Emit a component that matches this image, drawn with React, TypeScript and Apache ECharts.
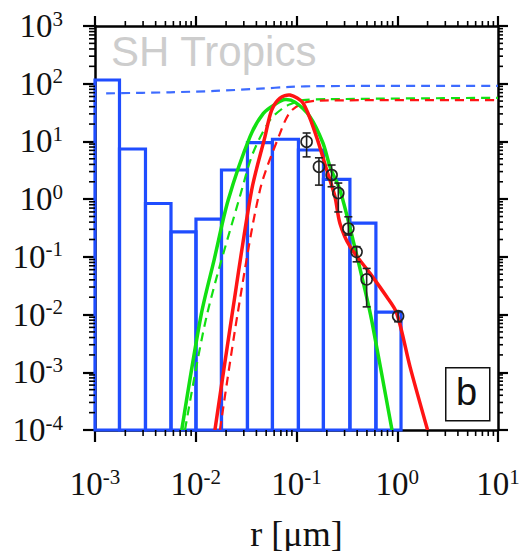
import React, { useEffect, useRef } from 'react';
import * as echarts from 'echarts';

// Histogram (blue) bin edges and heights
const binEdges = [0.001, 0.00175, 0.00317, 0.00568, 0.01005, 0.018, 0.0326, 0.0577, 0.1045, 0.185, 0.339, 0.614, 1.09];
const binCounts = [116, 7.4, 0.84, 0.27, 0.45, 3.2, 9.5, 10.9, 7.1, 2.2, 0.385, 0.011];

// Blue dashed (cumulative)
const blueDashR = [0.00129, 0.00555, 0.0155, 0.0434, 0.0861, 0.171, 10];
const blueDashY = [68, 71, 75, 82, 88, 91, 92];

// Green solid
const greenR = [0.00726, 0.0113, 0.0152, 0.021, 0.0345, 0.0469, 0.0635, 0.0769, 0.0966, 0.136, 0.183, 0.215, 0.27, 0.364, 0.479, 0.557, 0.887];
const greenY = [1e-4, 0.0098, 0.088, 0.965, 12.0, 30.7, 45.7, 53.2, 47.9, 26.8, 9.4, 3.64, 1.44, 0.195, 0.0266, 0.008, 1e-4];

// Green dashed
const greenDashR = [0.00782, 0.0129, 0.0286, 0.037, 0.0546, 0.0735, 0.0861, 0.116, 0.215, 10];
const greenDashY = [1e-4, 0.0098, 1.44, 6.3, 23.5, 37.9, 44, 52, 54, 57];

// Red solid
const redR = [0.0155, 0.0229, 0.0359, 0.0486, 0.0567, 0.0686, 0.0861, 0.116, 0.158, 0.1995, 0.241, 0.27, 0.34, 0.537, 0.786, 0.989, 1.34, 2.0];
const redY = [1e-4, 0.0098, 1.44, 12, 35, 56.5, 63.7, 46.3, 12, 3.19, 1.1, 0.38, 0.15, 0.0518, 0.0203, 0.0105, 0.00124, 1e-4];

// Red dashed
const redDashR = [0.0174, 0.0259, 0.0434, 0.0686, 0.0861, 0.116, 0.171, 10];
const redDashY = [1e-4, 0.0098, 1.44, 13.8, 32, 46, 51, 52];

// Measurements with error bars
const ptR = [0.126, 0.167, 0.223, 0.26, 0.327, 0.395, 0.497, 1.02];
const ptY = [9.9, 3.65, 2.62, 1.28, 0.31, 0.122, 0.0407, 0.0094];
const ptLo = [5.4, 1.75, 1.64, 0.6, 0.239, 0.082, 0.0136, 0.0075];
const ptHi = [14, 5.2, 3.9, 1.9, 0.495, 0.15, 0.063, 0.0112];

const X_MIN = 1e-3;
const X_MAX = 1e1;
const Y_MIN = 1e-4;
const Y_MAX = 1e3;

const BLUE = '#1f4dff';
const BLUE_DASH = '#3d6bff';
const GREEN = '#12e012';
const RED = '#ff1414';

const SERIF = 'Liberation Serif';
const SANS = 'Liberation Sans';

const zip = (a: number[], b: number[]) => a.map((v, i) => [v, b[i]]);

function decadeValues(minExp: number, maxExp: number, mults: number[]) {
  const out: number[] = [];
  for (let k = minExp; k <= maxExp; k++) {
    for (const m of mults) {
      if (k < maxExp || m === 1) out.push(m * Math.pow(10, k));
    }
  }
  return out;
}

const supLabel = (v: number) => `{b|10}{s|${Math.round(Math.log10(v))}}`;
const makeRich = () => ({
  b: { fontSize: 33, fontFamily: SERIF, color: '#111', lineHeight: 36 },
  s: { fontSize: 21, fontFamily: SERIF, color: '#111', lineHeight: 24, verticalAlign: 'top' },
});
const axisLine = () => ({ show: true, lineStyle: { color: '#000', width: 2.5 } });
const majorTick = (len: number) => ({ show: true, length: len, lineStyle: { color: '#000', width: 2.2 } });

// curve drawn as a custom series: one polyline through the axes' scales
const curveSeries = (xs: number[], ys: number[], color: string, width: number, dash: number[] | null, z: number) => ({
  type: 'custom',
  z,
  clip: true,
  silent: true,
  data: zip(xs, ys),
  encode: { x: 0, y: 1 },
  renderItem: (params: any, api: any) => {
    if (params.dataIndex !== 0) return null;
    const pts = xs.map((x, i) => api.coord([x, ys[i]]));
    return {
      type: 'polyline',
      shape: { points: pts, smooth: 0.3 },
      style: { fill: 'none', stroke: color, lineWidth: width, lineDash: dash || undefined },
    };
  },
});

export default function App() {
  const ref = useRef<HTMLDivElement>(null);

  useEffect(() => {
    if (!ref.current) return;
    const chart = echarts.init(ref.current, undefined, { renderer: 'svg' });

    const xMinor = decadeValues(-3, 1, [2, 3, 4, 5, 6, 7, 8, 9]);
    const yMinor = decadeValues(-4, 3, [2, 3, 4, 5, 6, 7, 8, 9]);

    const option: any = {
      animation: false,
      grid: { left: 95, right: 22, top: 26, bottom: 121, outerBoundsMode: 'none' },
      xAxis: [
        {
          type: 'log', logBase: 10, min: X_MIN, max: X_MAX, interval: 1, position: 'bottom',
          axisLine: axisLine(), axisTick: majorTick(12), splitLine: { show: false },
          axisLabel: { show: true, margin: 36, formatter: supLabel, rich: makeRich() },
          name: 'r [\u03bcm]', nameLocation: 'middle', nameGap: 86,
          nameTextStyle: { fontSize: 36, fontFamily: SERIF, color: '#111' },
        },
        {
          type: 'log', logBase: 10, min: X_MIN, max: X_MAX, interval: 1, position: 'top',
          axisLine: axisLine(), axisTick: majorTick(10), splitLine: { show: false }, axisLabel: { show: false },
        },
      ],
      yAxis: [
        {
          type: 'log', logBase: 10, min: Y_MIN, max: Y_MAX, interval: 1, position: 'left',
          axisLine: axisLine(), axisTick: majorTick(12), splitLine: { show: false },
          axisLabel: { show: true, margin: 32, formatter: supLabel, rich: makeRich() },
        },
        {
          type: 'log', logBase: 10, min: Y_MIN, max: Y_MAX, interval: 1, position: 'right',
          axisLine: axisLine(), axisTick: majorTick(10), splitLine: { show: false }, axisLabel: { show: false },
        },
      ],
      series: [
        {
          // minor ticks on all four sides, placed through the axes' scales
          type: 'custom', z: 7, clip: false, silent: true,
          data: [[0.1, 1]], encode: { x: 0, y: 1 },
          renderItem: (params: any, api: any) => {
            const bl = api.coord([X_MIN, Y_MIN]);
            const tr = api.coord([X_MAX, Y_MAX]);
            const kids: any[] = [];
            xMinor.forEach((v) => {
              const p = api.coord([v, 1]);
              kids.push({ type: 'line', shape: { x1: p[0], y1: bl[1], x2: p[0], y2: bl[1] + 6 }, style: { stroke: '#000', lineWidth: 1.6 } });
              kids.push({ type: 'line', shape: { x1: p[0], y1: tr[1], x2: p[0], y2: tr[1] - 5 }, style: { stroke: '#000', lineWidth: 1.6 } });
            });
            yMinor.forEach((v) => {
              const p = api.coord([0.1, v]);
              kids.push({ type: 'line', shape: { x1: bl[0], y1: p[1], x2: bl[0] - 6, y2: p[1] }, style: { stroke: '#000', lineWidth: 1.6 } });
              kids.push({ type: 'line', shape: { x1: tr[0], y1: p[1], x2: tr[0] + 5, y2: p[1] }, style: { stroke: '#000', lineWidth: 1.6 } });
            });
            return { type: 'group', children: kids };
          },
        },
        {
          type: 'custom', z: 2,
          data: binCounts.map((c, i) => [binEdges[i], binEdges[i + 1], c]),
          encode: { x: [0, 1], y: 2 },
          renderItem: (params: any, api: any) => {
            const p0 = api.coord([api.value(0), api.value(2)]);
            const p1 = api.coord([api.value(1), Y_MIN]);
            return {
              type: 'rect',
              shape: { x: p0[0], y: p0[1], width: p1[0] - p0[0], height: p1[1] - p0[1] },
              style: { fill: 'none', stroke: BLUE, lineWidth: 3.2 },
            };
          },
        },
        curveSeries(blueDashR, blueDashY, BLUE_DASH, 2.2, [9, 6], 3),
        curveSeries(greenDashR, greenDashY, GREEN, 2.2, [9, 6], 3),
        curveSeries(redDashR, redDashY, RED, 2.2, [9, 6], 3),
        curveSeries(greenR, greenY, GREEN, 3.5, null, 4),
        curveSeries(redR, redY, RED, 3.5, null, 4),
        {
          type: 'custom', z: 5,
          data: ptR.map((r, i) => [r, ptLo[i], ptHi[i], ptY[i]]),
          encode: { x: 0, y: [1, 2, 3] },
          renderItem: (params: any, api: any) => {
            const lo = api.coord([api.value(0), api.value(1)]);
            const hi = api.coord([api.value(0), api.value(2)]);
            const c = api.coord([api.value(0), api.value(3)]);
            const st = { stroke: '#222', lineWidth: 1.6 };
            return {
              type: 'group',
              children: [
                { type: 'line', shape: { x1: lo[0], y1: lo[1], x2: hi[0], y2: hi[1] }, style: st },
                { type: 'line', shape: { x1: lo[0] - 4, y1: lo[1], x2: lo[0] + 4, y2: lo[1] }, style: st },
                { type: 'line', shape: { x1: hi[0] - 4, y1: hi[1], x2: hi[0] + 4, y2: hi[1] }, style: st },
                { type: 'circle', shape: { cx: c[0], cy: c[1], r: 5.5 }, style: { fill: 'none', stroke: '#222', lineWidth: 1.6 } },
              ],
            };
          },
        },
      ],
      graphic: [
        {
          type: 'text', left: 111, top: 30, z: 1,
          style: { text: 'SH Tropics', fontSize: 42, fontFamily: SANS, fill: '#cdcdcd' },
        },
        {
          type: 'rect', left: 445, top: 367, z: 20,
          shape: { width: 44, height: 53 },
          style: { fill: '#fff', stroke: '#111', lineWidth: 1.5 },
        },
        {
          type: 'text', left: 456, top: 373, z: 21,
          style: { text: 'b', fontSize: 38, fontFamily: SANS, fill: '#111' },
        },
      ],
    };

    chart.setOption(option);
    return () => chart.dispose();
  }, []);

  return <div ref={ref} style={{ position: 'absolute', left: 0, top: 0, width: 520, height: 551 }} />;
}
